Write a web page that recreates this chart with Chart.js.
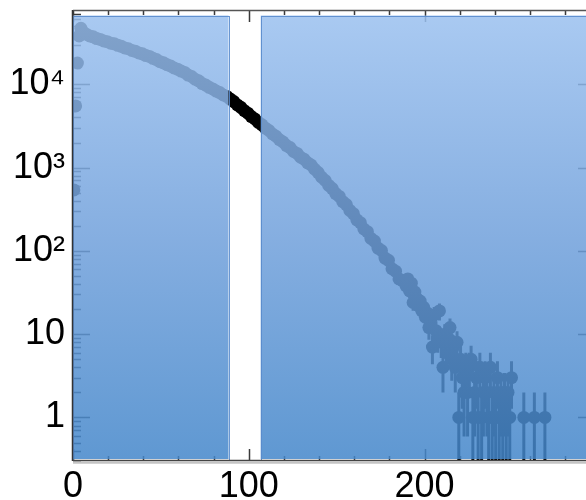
<!DOCTYPE html>
<html>
<head>
<meta charset="utf-8">
<script src="https://cdn.jsdelivr.net/npm/chart.js@4.4.0/dist/chart.umd.min.js"></script>
<style>
  html, body { margin: 0; padding: 0; background: #fff; overflow: hidden; }
</style>
</head>
<body>
<canvas id="chart" width="620" height="500"></canvas>
<script>
// 主体部分：计数 (bin 中心, 计数)
const mainX = [0.5, 1.5, 2.5, 3.5, 4.5, 5.5, 7.5, 9.5, 11.5, 13.5, 15.5, 17.5, 19.5, 21.5, 23.5,
  25.5, 27.5, 29.5, 31.5, 33.5, 35.5, 37.5, 39.5, 41.5, 43.5, 45.5, 47.5, 49.5, 51.5, 53.5,
  55.5, 57.5, 59.5, 61.5, 63.5, 65.5, 67.5, 69.5, 71.5, 73.5, 75.5, 77.5, 79.5, 81.5, 83.5,
  85.5, 87.5, 89.5, 91.5, 93.5, 95.5, 97.5, 99.5, 101.5, 103.5, 105.5, 107.5, 109.5, 111.5, 113.5,
  115.5, 117.5, 119.5, 121.5, 123.5, 125.5, 127.5, 129.5, 131.5, 133.5, 135.5, 137.5, 139.5, 141.5, 143.5,
  145.5, 147.5, 149.5, 151.5, 153.5, 155.5, 157.5, 159.5, 161.5, 163.5, 165.5, 167.5, 169.5, 171.5, 173.5,
  175.5, 177.5, 179.5, 181.5, 183.5, 185.5, 187.5];
const mainCounts = [540, 5500, 18000, 38000, 47000, 43000, 40000, 38100, 37200, 35400, 34600, 33200, 32500, 31200, 30600,
  29400, 28600, 27300, 26700, 25500, 24900, 23800, 23200, 22100, 21600, 20500, 19800, 18700, 18100, 17200,
  16600, 15700, 15200, 14400, 13900, 12900, 12400, 11500, 11000, 10200, 9800, 9200, 8800, 8300, 7950,
  7450, 7150, 6650, 6200, 5650, 5290, 4820, 4500, 4100, 3830, 3490, 3260, 2970, 2790, 2530,
  2380, 2160, 2030, 1840, 1740, 1560, 1480, 1330, 1260, 1140, 1075, 955, 872, 765, 700,
  610, 560, 488, 450, 390, 360, 306, 280, 236, 218, 183, 170, 141, 131, 108,
  101, 82, 77, 61, 57, 46, 44];

// 尾部：计数与误差
const tailX = [189.5, 190.5, 191.5, 192.5, 193.5, 194.5, 195.5, 196.5, 197.5, 198.5, 199.5, 200.5, 201.5, 202.5, 203.5,
  204.5, 205.5, 206.5, 207.5, 208.5, 209.5, 210.5, 211.5, 212.5, 213.5, 214.5, 215.5, 216.5, 217.5, 218.5,
  219.5, 220.5, 221.5, 222.5, 223.5, 224.5, 225.5, 226.5, 227.5, 228.5, 229.5, 230.5, 231.5, 232.5, 233.5,
  234.5, 235.5, 236.5, 237.5, 238.5, 239.5, 240.5, 241.5, 242.5, 243.5, 244.5, 245.5, 246.5, 247.5, 248.5,
  249.5, 256.5, 262.5, 268.5];
const tailCounts = [38, 46, 33, 41, 24, 32, 27, 22, 25, 19, 21, 16, 18, 12, 15,
  7, 17, 11, 9, 19, 8, 4, 10, 6, 9, 12, 5, 7, 4, 8,
  1, 5, 3, 2, 4, 2, 4, 5, 1, 2, 3, 1, 4, 1, 2,
  3, 2, 1, 4, 1, 2, 1, 3, 1, 2, 1, 2, 1, 2, 1,
  3, 1, 1, 1];
const tailErr = [6.16, 6.78, 5.74, 6.4, 4.9, 5.66, 5.2, 4.69, 5, 4.36, 4.58, 4, 4.24, 3.46, 3.87,
  2.65, 4.12, 3.32, 3, 4.36, 2.83, 2, 3.16, 2.45, 3, 3.46, 2.24, 2.65, 2, 2.83,
  1, 2.24, 1.73, 1.41, 2, 1.41, 2, 2.24, 1, 1.41, 1.73, 1, 2, 1, 1.41,
  1.73, 1.41, 1, 2, 1, 1.41, 1, 1.73, 1, 1.41, 1, 1.41, 1, 1.41, 1,
  1.73, 1, 1, 1];

// 蓝色区域 (x 范围)
const regions = [[0, 88.5], [106.8, 297]];

// 刻度
const xTickValues = [0, 100, 200];
const yTickValues = [1, 10, 100, 1000, 10000];
const yTickLabels = ['1', '10', '10²', '10³', '10⁴'];

// 坐标框、刻度、误差线和蓝色区域
const framePlugin = {
  id: 'frame',
  beforeDatasetsDraw(chart) {
    const { ctx, chartArea: a, scales: { x, y } } = chart;
    ctx.save();
    ctx.strokeStyle = '#3a3a3a';
    ctx.lineWidth = 1.5;
    ctx.beginPath();
    for (let d = 0.1; d < 1e5; d *= 10) {
      for (let m = 1; m <= 9; m++) {
        const v = d * m;
        if (v < y.min || v > y.max) continue;
        const py = Math.round(y.getPixelForValue(v)) + 0.5;
        const len = m === 1 ? 17 : 8;
        ctx.moveTo(a.left, py); ctx.lineTo(a.left + len, py);
        ctx.moveTo(a.right, py); ctx.lineTo(a.right - len, py);
      }
    }
    for (let v = 0; v <= x.max; v += 20) {
      const px = Math.round(x.getPixelForValue(v)) + 0.5;
      const len = v % 100 === 0 ? 12 : 5;
      ctx.moveTo(px, a.bottom); ctx.lineTo(px, a.bottom - len);
      ctx.moveTo(px, a.top); ctx.lineTo(px, a.top + len);
    }
    ctx.stroke();

    // 误差线
    ctx.beginPath();
    ctx.rect(a.left, a.top, a.right - a.left, a.bottom - a.top);
    ctx.clip();
    ctx.strokeStyle = '#000';
    ctx.lineWidth = 3;
    ctx.beginPath();
    tailX.forEach((xv, i) => {
      const v = tailCounts[i], e = tailErr[i];
      const px = x.getPixelForValue(xv);
      const top = y.getPixelForValue(v + e);
      const bot = v - e > 0 ? y.getPixelForValue(v - e) : a.bottom;
      ctx.moveTo(px, top); ctx.lineTo(px, bot);
    });
    ctx.stroke();
    ctx.restore();
  },
  afterDatasetsDraw(chart) {
    const { ctx, chartArea: a, scales: { x } } = chart;
    ctx.save();
    const top = a.top + 5.5, bottom = a.bottom - 2;
    const grad = ctx.createLinearGradient(0, top, 0, bottom);
    grad.addColorStop(0, 'rgba(154, 192, 239, 0.85)');
    grad.addColorStop(0.5, 'rgba(112, 160, 219, 0.85)');
    grad.addColorStop(1, 'rgba(67, 134, 202, 0.85)');
    regions.forEach(([x0, x1]) => {
      const l = Math.max(x.getPixelForValue(x0), a.left);
      const r = Math.min(x.getPixelForValue(x1), a.right);
      ctx.fillStyle = grad;
      ctx.fillRect(l, top, r - l, bottom - top);
      ctx.strokeStyle = 'rgba(90, 140, 205, 0.9)';
      ctx.lineWidth = 1;
      ctx.strokeRect(Math.round(l) + 0.5, Math.round(top) + 0.5, Math.round(r - l), Math.round(bottom - top));
    });

    // 轴线
    ctx.lineWidth = 1.5;
    ctx.strokeStyle = '#555';
    ctx.beginPath();
    ctx.moveTo(a.left, a.top + 0.5); ctx.lineTo(a.right, a.top + 0.5);
    ctx.stroke();
    ctx.strokeStyle = '#333';
    ctx.beginPath();
    ctx.moveTo(a.left - 0.5, a.top); ctx.lineTo(a.left - 0.5, a.bottom);
    ctx.stroke();
    ctx.strokeStyle = '#444';
    ctx.beginPath();
    ctx.moveTo(a.left, a.bottom - 0.5); ctx.lineTo(a.right, a.bottom - 0.5);
    ctx.stroke();
    ctx.strokeStyle = '#c4c4c4';
    ctx.lineWidth = 2.5;
    ctx.beginPath();
    ctx.moveTo(a.left, a.bottom + 1.5); ctx.lineTo(a.right, a.bottom + 1.5);
    ctx.stroke();
    ctx.restore();
  }
};

const pointStyle = { backgroundColor: '#000', borderWidth: 0, pointRadius: 6.5, pointHoverRadius: 6.5 };

new Chart(document.getElementById('chart'), {
  type: 'scatter',
  data: {
    datasets: [
      { data: mainX.map((v, i) => ({ x: v, y: mainCounts[i] })), ...pointStyle },
      { data: tailX.map((v, i) => ({ x: v, y: tailCounts[i] })), ...pointStyle }
    ]
  },
  options: {
    responsive: false,
    animation: false,
    layout: { padding: { top: 10, right: 25, left: 0, bottom: 0 } },
    plugins: { legend: { display: false }, tooltip: { enabled: false } },
    scales: {
      x: {
        type: 'linear',
        min: 0,
        max: 297,
        grid: { display: false, drawTicks: false },
        border: { display: false },
        afterBuildTicks: s => { s.ticks = xTickValues.map(v => ({ value: v })); },
        afterFit: s => { s.height = 39; s.paddingLeft = 0; s.paddingRight = 0; },
        ticks: { font: { family: 'Liberation Sans', size: 36 }, color: '#000', padding: 4, maxRotation: 0, autoSkip: false }
      },
      y: {
        type: 'logarithmic',
        min: 0.315,
        max: 78000,
        grid: { display: false, drawTicks: false },
        border: { display: false },
        afterBuildTicks: s => { s.ticks = yTickValues.map(v => ({ value: v })); },
        afterFit: s => { s.width = 73; s.paddingTop = 0; s.paddingBottom = 0; },
        ticks: {
          font: { family: 'Liberation Sans', size: 36 },
          color: '#000',
          padding: 8,
          autoSkip: false,
          callback: v => {
            const i = yTickValues.indexOf(v);
            return i >= 0 ? yTickLabels[i] : '';
          }
        }
      }
    }
  },
  plugins: [framePlugin]
});
</script>
</body>
</html>
